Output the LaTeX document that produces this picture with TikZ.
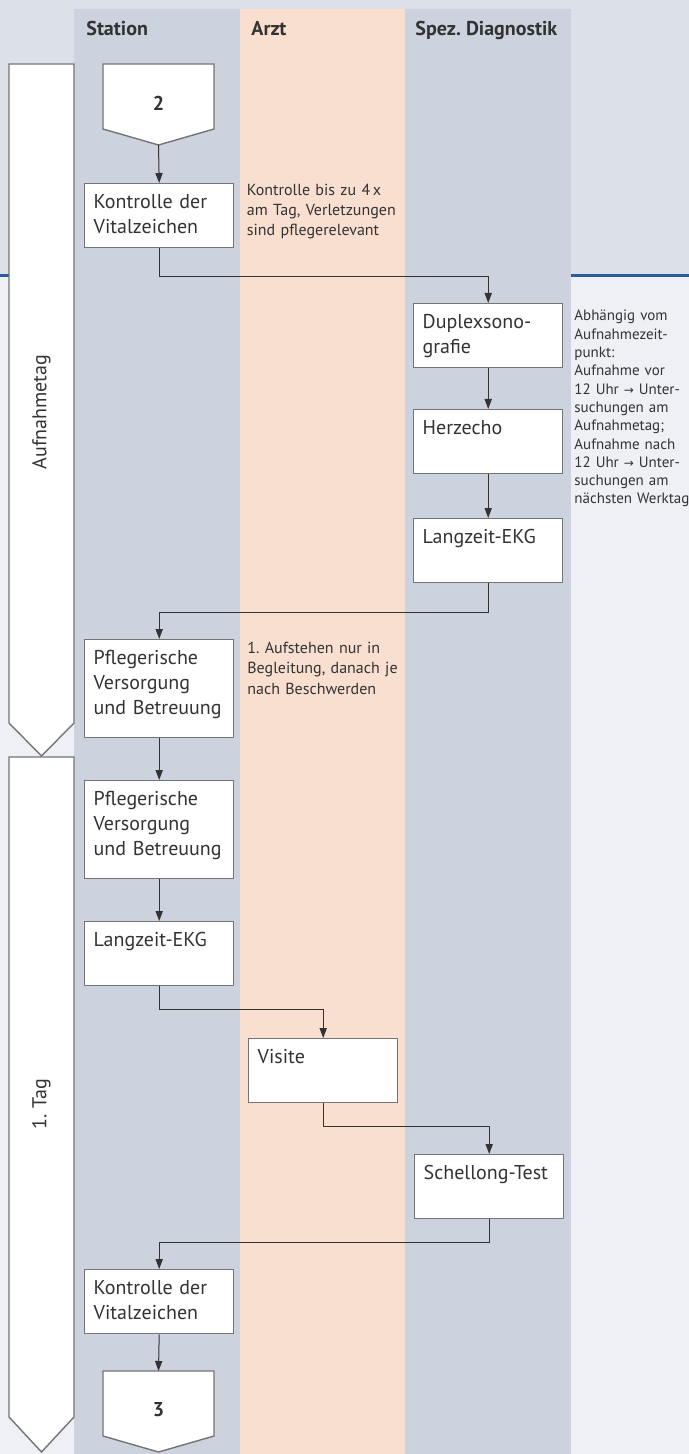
\documentclass[tikz,border=0pt]{standalone}
\usepackage{fontspec}
\setmainfont{PT Sans}
\newfontfamily\arrowfont{DejaVu Sans}
\usetikzlibrary{arrows.meta}
\frenchspacing
\definecolor{topgray}{HTML}{DCE0E9}
\definecolor{pagegray}{HTML}{EEF0F5}
\definecolor{lanegray}{HTML}{CCD3DF}
\definecolor{lanepeach}{HTML}{F8DFD0}
\definecolor{rulecol}{HTML}{2A5A9C}
\definecolor{framecol}{HTML}{747474}
\definecolor{inkcol}{HTML}{333333}
\newcommand{\toarrow}{{\arrowfont\fontsize{6}{6}\selectfont →}}

\begin{document}
\begin{tikzpicture}[x=0.5pt,y=-0.5pt,
        every node/.style={text=inkcol},
        task/.style={draw=framecol, line width=0.7pt, fill=white, anchor=north west,
            inner xsep=4.5pt, inner ysep=0pt, text width=65.5pt, align=left,
            font=\fontsize{10}{12.5}\selectfont, text height=12.5pt, text depth=19.5pt},
        tall/.style={text depth=36.5pt},
        flow/.style={draw=inkcol, line width=0.5pt, -{Triangle[length=5pt,width=3.6pt]}},
        note/.style={anchor=base west, inner sep=0pt, text width=80pt, align=left},
        lanehead/.style={anchor=base west, inner sep=0pt, font=\bfseries\fontsize{10}{12}\selectfont},
        phase/.style={draw=framecol, line width=0.7pt, fill=white},
        phaselabel/.style={rotate=90, inner sep=0pt, font=\fontsize{10}{12}\selectfont}]
        \useasboundingbox (0,0) rectangle (689,1454);
        \def\mid{158.5}
        \fill[topgray] (0,0) rectangle (689,275);
        \fill[pagegray] (0,275) rectangle (689,1454);
        \draw[rulecol, line width=1.3pt] (0,275.5) -- (689,275.5);
        \fill[lanegray] (74,9) rectangle (240,1454);
        \fill[lanepeach] (240,9) rectangle (405,1454);
        \fill[lanegray] (405,9) rectangle (571,1454);
        \node[lanehead] (hstation) at (86,36) {Station};
        \node[lanehead] (harzt) at (251,36) {Arzt};
        \node[lanehead] (hspez) at (415,36) {Spez. Diagnostik};

        \draw[phase] (9,64) -- (74,64) -- (74,723) -- (41.5,756) -- (9,723) -- cycle;
        \draw[phase] (9,757) -- (74,757) -- (74,1417) -- (41.5,1452) -- (9,1417) -- cycle;
        \node[phaselabel] (aufnahmetag) at (41.5,412) {Aufnahmetag};
        \node[phaselabel] (ersterTag) at (41.5,1104) {1. Tag};

        \draw[phase] (103,64) -- (214,64) -- (214,129) -- (\mid,145) -- (103,129) -- cycle;
        \node[font=\bfseries\fontsize{10}{12}\selectfont] (von2) at (\mid,103) {2};
        \coordinate (von2tip) at (\mid,145);
        \draw[phase] (103,1371) -- (214,1371) -- (214,1436) -- (\mid,1452) -- (103,1436) -- cycle;
        \node[font=\bfseries\fontsize{10}{12}\selectfont] (nach3) at (\mid,1410) {3};
        \coordinate (nach3top) at (\mid,1371);

        \node[task] (vital1) at (84,183) {Kontrolle der\\Vitalzeichen};
        \node[task] (duplex) at (413,303) {Duplexsono-\\grafie};
        \node[task] (herzecho) at (413,409) {Herzecho};
        \node[task] (ekgspez) at (413,518) {Langzeit-EKG};
        \node[task,tall] (pflege1) at (84,639) {Pflegerische\\Versorgung\\und Betreuung};
        \node[task,tall] (pflege2) at (84,780) {Pflegerische\\Versorgung\\und Betreuung};
        \node[task] (ekgstation) at (84,921) {Langzeit-EKG};
        \node[task] (visite) at (248,1038) {Visite};
        \node[task] (schellong) at (414,1154) {Schellong-Test};
        \node[task] (vital2) at (84,1269) {Kontrolle der\\Vitalzeichen};

        \node[note, font=\fontsize{8}{10}\selectfont] (hinweisvital) at (246.5,196)
            {Kontrolle bis zu 4\,x\\am Tag, Verletzungen\\sind pflegerelevant};
        \node[note, font=\fontsize{8}{10.25}\selectfont] (hinweisaufstehen) at (247,653)
            {1. Aufstehen nur in\\Begleitung, danach je\\nach Beschwerden};
        \node[note, text width=60pt, font=\fontsize{7.5}{9.15}\selectfont] (hinweiszeit) at (574,321)
            {Abhängig vom\\Aufnahmezeit-\\punkt:\\Aufnahme vor\\12 Uhr \toarrow{} Unter-\\suchungen am\\Aufnahmetag;\\Aufnahme nach\\12 Uhr \toarrow{} Unter-\\suchungen am\\nächsten Werktag};

        \draw[flow] (von2tip) -- (vital1.north);
        \draw[flow] (vital1.south) -- ++(0,28) -| (duplex.north);
        \draw[flow] (duplex) -- (herzecho);
        \draw[flow] (herzecho) -- (ekgspez);
        \draw[flow] (ekgspez.south) -- ++(0,29) -| (pflege1.north);
        \draw[flow] (pflege1) -- (pflege2);
        \draw[flow] (pflege2) -- (ekgstation);
        \draw[flow] (ekgstation.south) -- ++(0,23) -| (visite.north);
        \draw[flow] (visite.south) -- ++(0,23) -| (schellong.north);
        \draw[flow] (schellong.south) -- ++(0,23) -| (vital2.north);
        \draw[flow] (vital2.south) -- (nach3top);
    \end{tikzpicture}
\end{document}
